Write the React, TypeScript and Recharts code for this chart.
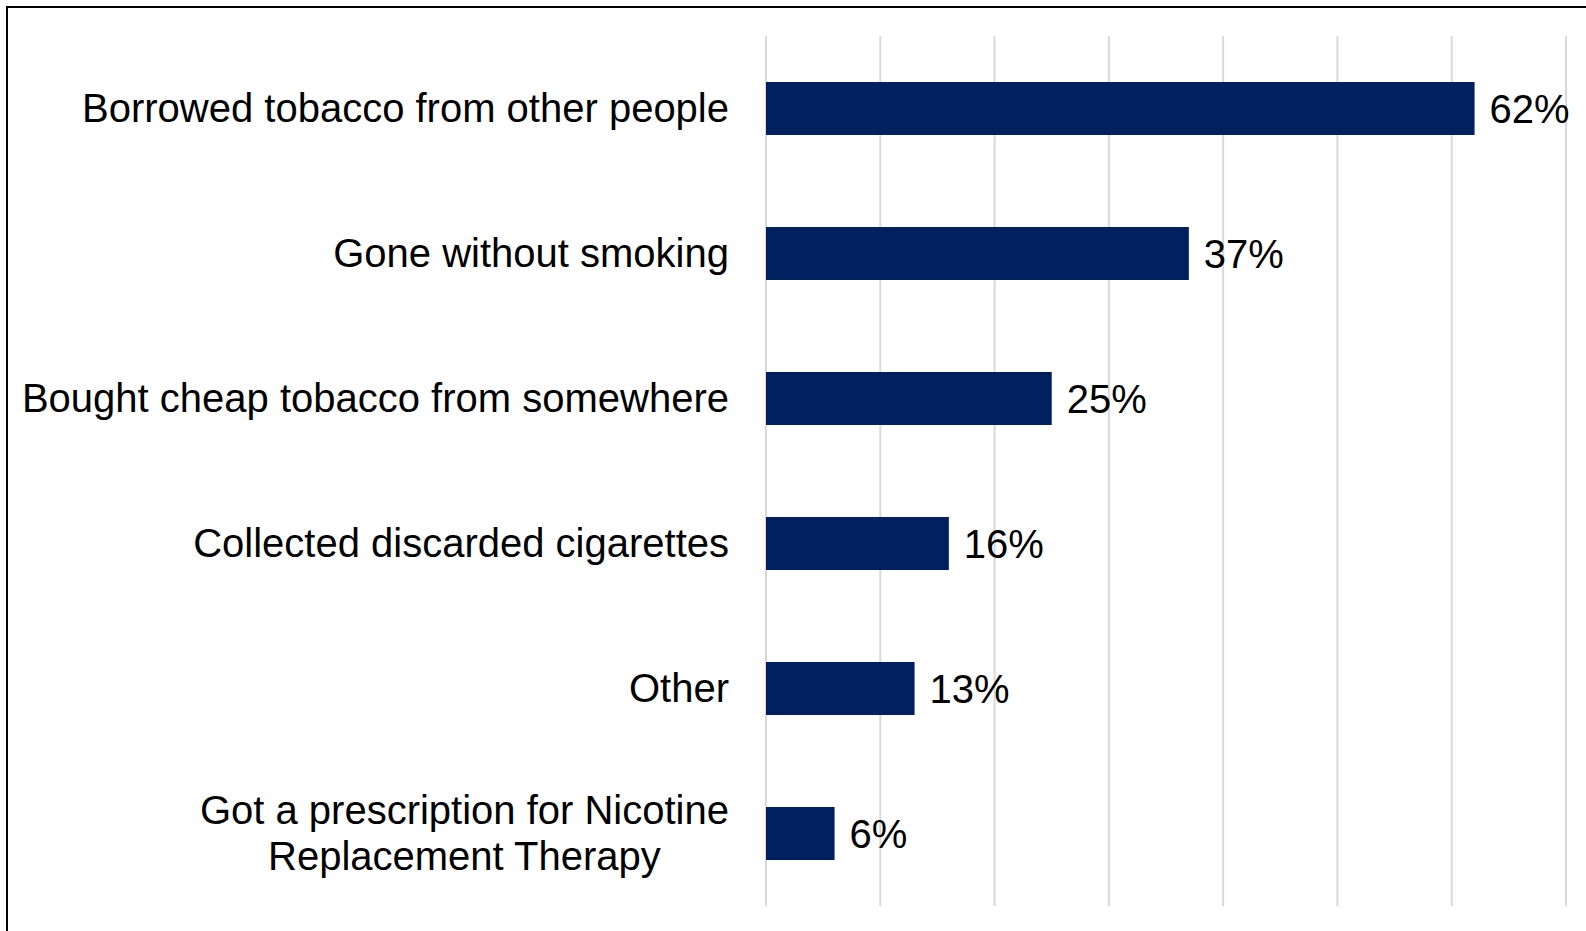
import React from 'react';
import { BarChart, Bar, XAxis, YAxis, CartesianGrid, LabelList } from 'recharts';

const categories = [
  'Borrowed tobacco from other people',
  'Gone without smoking',
  'Bought cheap tobacco from somewhere',
  'Collected discarded cigarettes',
  'Other',
  'Got a prescription for Nicotine Replacement Therapy',
];
const percentages = [62, 37, 25, 16, 13, 6];
const xTicks = [0, 10, 20, 30, 40, 50, 60, 70];

const FONT = "'Liberation Sans', Arial, sans-serif";
const FONT_SIZE = 40;
const BAR_COLOR = '#002060';

const chartData = categories.map((name, i) => ({ name, value: percentages[i] }));

let ctx: CanvasRenderingContext2D | null = null;
function textWidth(s: string) {
  if (!ctx) {
    ctx = document.createElement('canvas').getContext('2d');
  }
  if (!ctx) return s.length * FONT_SIZE * 0.5;
  ctx.font = `${FONT_SIZE}px ${FONT}`;
  return ctx.measureText(s).width;
}

// word-wrap a label the way the original chart does
function wrap(label: string, maxWidth: number) {
  const words = label.split(' ');
  const lines: string[] = [];
  let cur = '';
  words.forEach(w => {
    const next = cur ? `${cur} ${w}` : w;
    if (cur && textWidth(next) > maxWidth) {
      lines.push(cur);
      cur = w;
    } else {
      cur = next;
    }
  });
  if (cur) lines.push(cur);
  return lines;
}

function CategoryTick(props: any) {
  const { x, y, payload } = props;
  const lines = wrap(payload.value, 735);
  const blockWidth = Math.max(...lines.map(textWidth));
  const cx = x - 29 - blockWidth / 2;
  const lineHeight = 46;
  const first = y - ((lines.length - 1) * lineHeight) / 2;
  return (
    <g>
      {lines.map((line, i) => (
        <text
          key={i}
          x={cx}
          y={first + i * lineHeight}
          dy="0.34em"
          textAnchor="middle"
          fill="#000"
          fontSize={FONT_SIZE}
          fontFamily={FONT}
        >
          {line}
        </text>
      ))}
    </g>
  );
}

export default function App() {
  return (
    <div style={{ position: 'relative', width: 1586, height: 931, overflow: 'hidden', background: '#fff' }}>
      <style>{`body{margin:0}`}</style>
      <div
        style={{
          position: 'absolute',
          left: 6,
          top: 6,
          width: 1700,
          height: 1100,
          borderTop: '2px solid #000',
          borderLeft: '2px solid #000',
        }}
      />
      <div style={{ position: 'absolute', left: 0, top: 0 }}>
        <BarChart
          width={1586}
          height={931}
          data={chartData}
          layout="vertical"
          margin={{ top: 36, right: 20, bottom: 25, left: 0 }}
          barSize={53}
        >
          <CartesianGrid horizontal={false} stroke="#d9d9d9" strokeWidth={2} />
          <XAxis type="number" domain={[0, 70]} ticks={xTicks} hide />
          <YAxis
            type="category"
            dataKey="name"
            width={766}
            axisLine={false}
            tickLine={false}
            interval={0}
            tick={<CategoryTick />}
          />
          <Bar dataKey="value" fill={BAR_COLOR} isAnimationActive={false}>
            <LabelList
              dataKey="value"
              position="right"
              offset={15}
              formatter={(v: any) => `${v}%`}
              fill="#000"
              fontSize={FONT_SIZE}
              fontFamily={FONT}
            />
          </Bar>
        </BarChart>
      </div>
    </div>
  );
}
